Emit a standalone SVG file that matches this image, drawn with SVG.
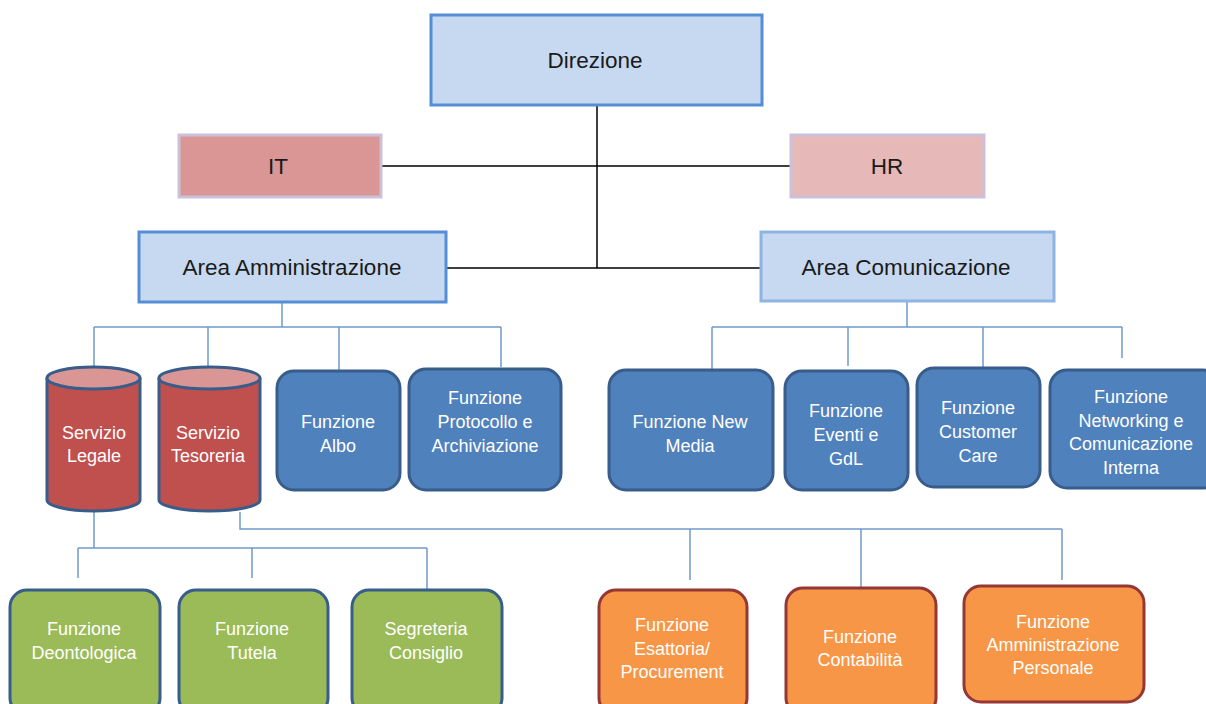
<svg xmlns="http://www.w3.org/2000/svg" width="1206" height="704" viewBox="0 0 1206 704">
<style>
.t{font-family:"Liberation Sans",Arial,sans-serif;text-anchor:middle}
.dk{fill:#1a1a1a;font-size:22.5px}
.wh{fill:#ffffff;font-size:18px}
.top{fill:#c6d9f1;stroke:#558ed5;stroke-width:3}
.blue{fill:#4f81bd;stroke:#385d8a;stroke-width:3}
.green{fill:#9bbb59;stroke:#385d8a;stroke-width:3}
.orange{fill:#f79646;stroke:#953735;stroke-width:3}
.cylb{fill:#c0504d;stroke:#385d8a;stroke-width:3}
.cylt{fill:#d99694;stroke:#385d8a;stroke-width:3}
.k{stroke:#000;stroke-width:1.5;fill:none}
.c{stroke:#7099cb;stroke-width:1.5;fill:none}
</style>
<rect width="1206" height="704" fill="#ffffff"/>
<g id="connectors">
<path class="k" d="M597,105 V268 M381,166 H791 M446,268 H761"/>
<path class="c" d="M282,302 V327 M94,327 H501 M94,327 V367 M208,327 V367 M339,327 V371 M501,327 V367"/>
<path class="c" d="M907,301 V327 M712,327 H1122 M712,327 V370 M848,327 V366 M983,327 V368 M1122,327 V358"/>
<path class="c" d="M94,511 V548 M78,548 H427 M78,548 V578 M252,548 V578 M427,548 V590"/>
<path class="c" d="M240,512 V529 H1062 M690,529 V580 M861,529 V588 M1062,529 V580"/>
</g>
<g id="direzione">
<rect class="top" x="431" y="15" width="331" height="90"/>
<text class="t dk" x="595" y="68">Direzione</text>
</g>
<g id="it">
<rect x="179" y="135" width="202" height="62" fill="#d99694" stroke="#ccc1da" stroke-width="3"/>
<text class="t dk" x="278" y="174">IT</text>
</g>
<g id="hr">
<rect x="791" y="135" width="193" height="62" fill="#e6b9b8" stroke="#ccc1da" stroke-width="3"/>
<text class="t dk" x="887" y="174">HR</text>
</g>
<g id="area-amministrazione">
<rect class="top" x="139" y="232" width="307" height="70"/>
<text class="t dk" x="292" y="275">Area Amministrazione</text>
</g>
<g id="area-comunicazione">
<rect x="761" y="232" width="293" height="69" fill="#c6d9f1" stroke="#8eb4e3" stroke-width="3"/>
<text class="t dk" x="906" y="275">Area Comunicazione</text>
</g>
<g id="servizio-legale">
<path class="cylb" d="M47,378 V500 A46.5,11 0 0 0 140,500 V378"/>
<ellipse class="cylt" cx="93.5" cy="378" rx="46.5" ry="11"/>
<text class="t wh" x="94" y="439">Servizio</text>
<text class="t wh" x="94" y="462">Legale</text>
</g>
<g id="servizio-tesoreria">
<path class="cylb" d="M159,378 V500 A50.5,11 0 0 0 260,500 V378"/>
<ellipse class="cylt" cx="209.5" cy="378" rx="50.5" ry="11"/>
<text class="t wh" x="208" y="439">Servizio</text>
<text class="t wh" x="208" y="462">Tesoreria</text>
</g>
<g id="funzione-albo">
<rect class="blue" x="277" y="371" width="123" height="119" rx="17"/>
<text class="t wh" x="338" y="428">Funzione</text>
<text class="t wh" x="338" y="452">Albo</text>
</g>
<g id="funzione-protocollo">
<rect class="blue" x="409" y="369" width="152" height="121" rx="17"/>
<text class="t wh" x="485" y="404">Funzione</text>
<text class="t wh" x="485" y="428">Protocollo e</text>
<text class="t wh" x="485" y="452">Archiviazione</text>
</g>
<g id="funzione-new-media">
<rect class="blue" x="609" y="370" width="164" height="120" rx="17"/>
<text class="t wh" x="690" y="428">Funzione New</text>
<text class="t wh" x="690" y="452">Media</text>
</g>
<g id="funzione-eventi">
<rect class="blue" x="785" y="371" width="123" height="119" rx="17"/>
<text class="t wh" x="846" y="417">Funzione</text>
<text class="t wh" x="846" y="441">Eventi e</text>
<text class="t wh" x="846" y="465">GdL</text>
</g>
<g id="funzione-customer-care">
<rect class="blue" x="917" y="368" width="123" height="119" rx="17"/>
<text class="t wh" x="978" y="414">Funzione</text>
<text class="t wh" x="978" y="438">Customer</text>
<text class="t wh" x="978" y="462">Care</text>
</g>
<g id="funzione-networking">
<rect class="blue" x="1050" y="370" width="170" height="118" rx="17"/>
<text class="t wh" x="1131" y="403">Funzione</text>
<text class="t wh" x="1131" y="427">Networking e</text>
<text class="t wh" x="1131" y="450">Comunicazione</text>
<text class="t wh" x="1131" y="474">Interna</text>
</g>
<g id="funzione-deontologica">
<rect class="green" x="10" y="590" width="150" height="125" rx="17"/>
<text class="t wh" x="84" y="635">Funzione</text>
<text class="t wh" x="84" y="659">Deontologica</text>
</g>
<g id="funzione-tutela">
<rect class="green" x="179" y="590" width="149" height="125" rx="17"/>
<text class="t wh" x="252" y="635">Funzione</text>
<text class="t wh" x="252" y="659">Tutela</text>
</g>
<g id="segreteria-consiglio">
<rect class="green" x="352" y="590" width="150" height="125" rx="17"/>
<text class="t wh" x="426" y="635">Segreteria</text>
<text class="t wh" x="426" y="659">Consiglio</text>
</g>
<g id="funzione-esattoria">
<rect class="orange" x="599" y="590" width="148" height="125" rx="17"/>
<text class="t wh" x="672" y="631">Funzione</text>
<text class="t wh" x="672" y="655">Esattoria/</text>
<text class="t wh" x="672" y="678">Procurement</text>
</g>
<g id="funzione-contabilita">
<rect class="orange" x="786" y="588" width="150" height="127" rx="17"/>
<text class="t wh" x="860" y="643">Funzione</text>
<text class="t wh" x="860" y="666">Contabilità</text>
</g>
<g id="funzione-amministrazione-personale">
<rect class="orange" x="964" y="586" width="180" height="116" rx="17"/>
<text class="t wh" x="1053" y="628">Funzione</text>
<text class="t wh" x="1053" y="651">Amministrazione</text>
<text class="t wh" x="1053" y="674">Personale</text>
</g>
</svg>
